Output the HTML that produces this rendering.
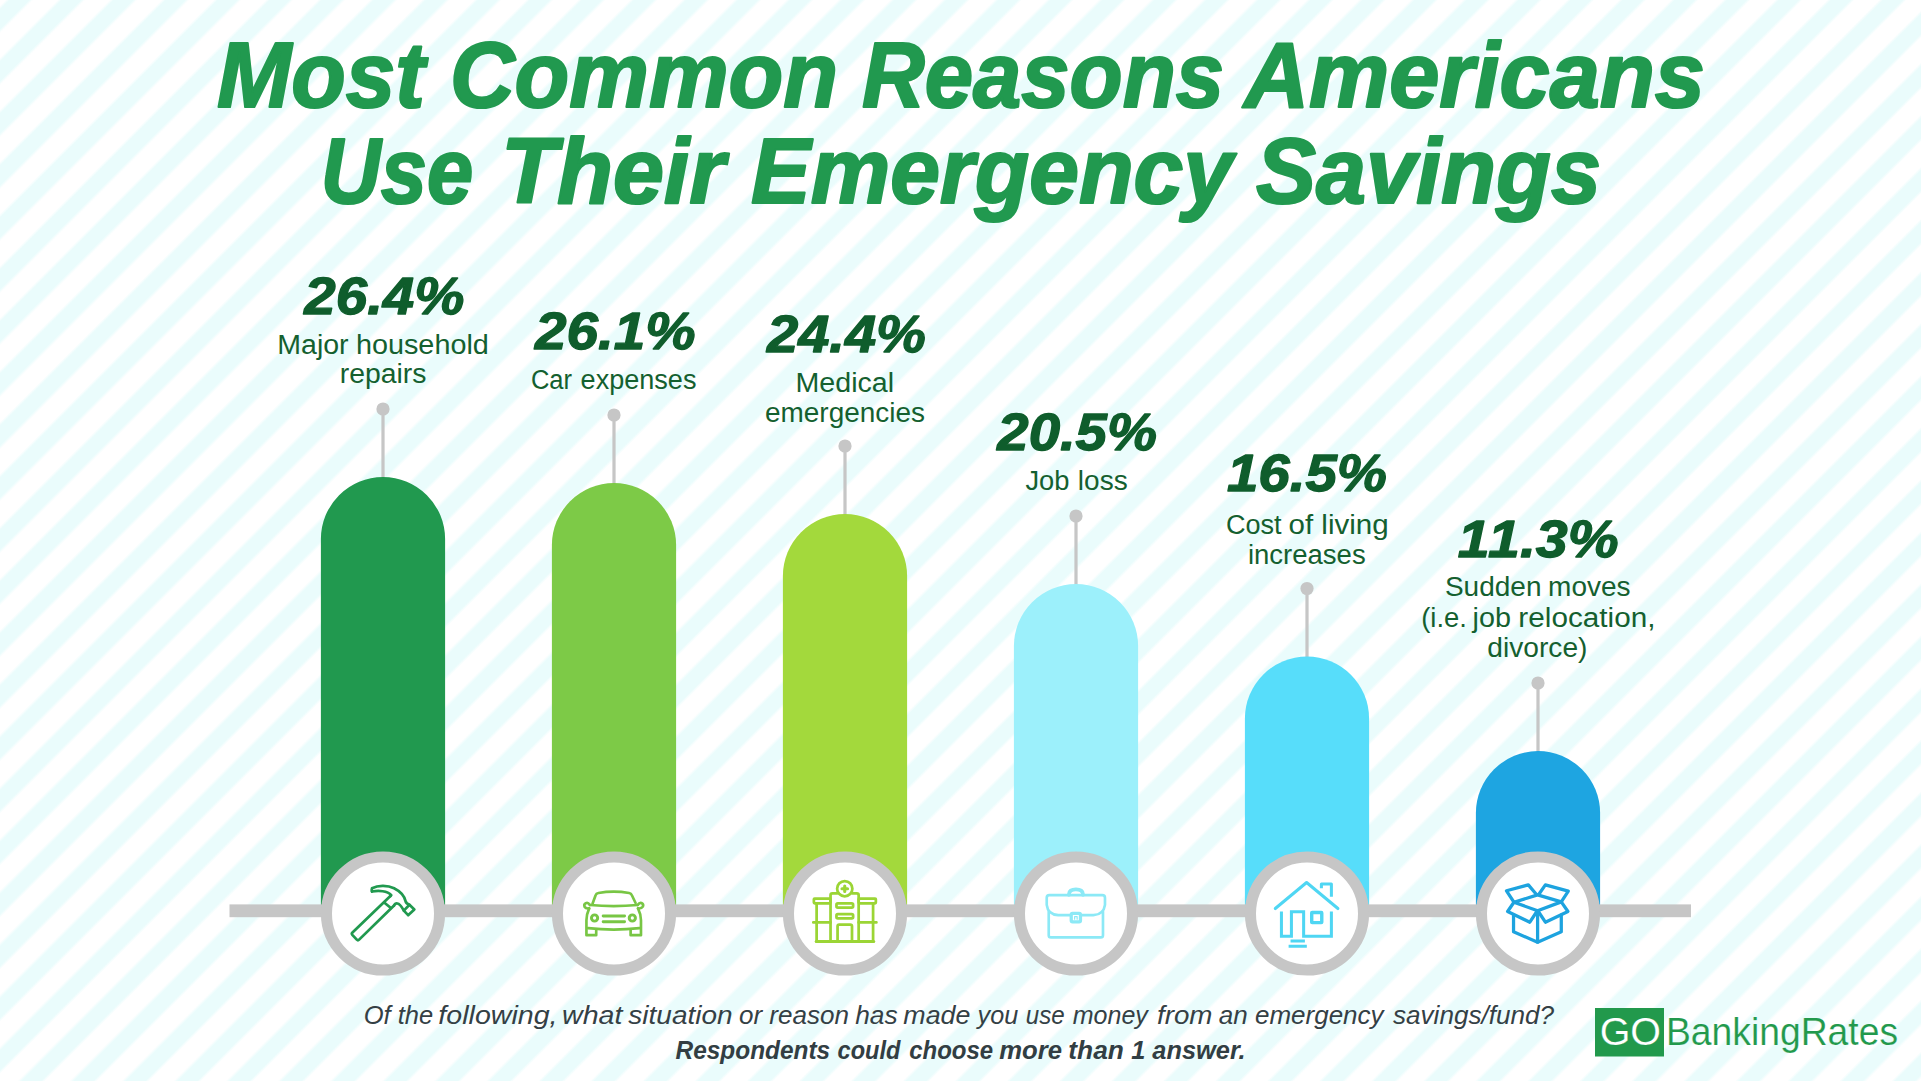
<!DOCTYPE html>
<html lang="en"><head><meta charset="utf-8"><title>Most Common Reasons Americans Use Their Emergency Savings</title>
<style>
html,body{margin:0;padding:0;}
body{width:1921px;height:1081px;overflow:hidden;position:relative;background-color:#fff;
background-image:repeating-linear-gradient(135deg,#ffffff 0px,#ffffff 3.9px,#eafcfc 6.9px,#eafcfc 20.5px,#ffffff 23.5px,#ffffff 36.8px);}
svg{position:absolute;left:0;top:0;}
text{font-family:"Liberation Sans", sans-serif;}
.ti{font-weight:700;font-style:italic;fill:#21994f;stroke:#21994f;stroke-width:2.2px;stroke-linejoin:round;}
.pc{font-weight:700;font-style:italic;fill:#0f5d2c;stroke:#0f5d2c;stroke-width:1.3px;stroke-linejoin:round;}
.lb{font-weight:400;fill:#14602f;}
.ft{font-style:italic;fill:#344045;}
.fb{font-style:italic;font-weight:700;fill:#323e43;}
.go{fill:#fff;stroke:#22994c;stroke-width:0.2px;}
.br{fill:#22994c;stroke:#fff;stroke-width:0.2px;}
</style></head><body>
<svg width="1921" height="1081" viewBox="0 0 1921 1081">

<g id="pins">
<rect x="381.4" y="409" width="3.2" height="70" fill="#c6c6c6"/><circle cx="383" cy="409" r="6.6" fill="#c6c6c6"/>
<rect x="612.4" y="415" width="3.2" height="70" fill="#c6c6c6"/><circle cx="614" cy="415" r="6.6" fill="#c6c6c6"/>
<rect x="843.4" y="446" width="3.2" height="70" fill="#c6c6c6"/><circle cx="845" cy="446" r="6.6" fill="#c6c6c6"/>
<rect x="1074.4" y="516" width="3.2" height="70" fill="#c6c6c6"/><circle cx="1076" cy="516" r="6.6" fill="#c6c6c6"/>
<rect x="1305.4" y="588.5" width="3.2" height="70" fill="#c6c6c6"/><circle cx="1307" cy="588.5" r="6.6" fill="#c6c6c6"/>
<rect x="1536.4" y="683" width="3.2" height="70" fill="#c6c6c6"/><circle cx="1538" cy="683" r="6.6" fill="#c6c6c6"/>
</g>
<g id="bars">
<path d="M320.9 913.5V539.1A62.1 62.1 0 0 1 445.1 539.1V913.5Z" fill="#21994f"/>
<path d="M551.9 913.5V545.1A62.1 62.1 0 0 1 676.1 545.1V913.5Z" fill="#7dca47"/>
<path d="M782.9 913.5V576.1A62.1 62.1 0 0 1 907.1 576.1V913.5Z" fill="#a3d93c"/>
<path d="M1013.9 913.5V646.1A62.1 62.1 0 0 1 1138.1 646.1V913.5Z" fill="#9cf0fb"/>
<path d="M1244.9 913.5V718.6A62.1 62.1 0 0 1 1369.1 718.6V913.5Z" fill="#57ddfa"/>
<path d="M1475.9 913.5V813.1A62.1 62.1 0 0 1 1600.1 813.1V913.5Z" fill="#1ea5e1"/>
</g>
<rect x="229.5" y="904.4" width="1461.5" height="12.8" fill="#c6c6c6"/>
<g id="rings">
<circle cx="383" cy="913.5" r="56.55" fill="#fff" stroke="#c6c6c6" stroke-width="11.1"/>
<circle cx="614" cy="913.5" r="56.55" fill="#fff" stroke="#c6c6c6" stroke-width="11.1"/>
<circle cx="845" cy="913.5" r="56.55" fill="#fff" stroke="#c6c6c6" stroke-width="11.1"/>
<circle cx="1076" cy="913.5" r="56.55" fill="#fff" stroke="#c6c6c6" stroke-width="11.1"/>
<circle cx="1307" cy="913.5" r="56.55" fill="#fff" stroke="#c6c6c6" stroke-width="11.1"/>
<circle cx="1538" cy="913.5" r="56.55" fill="#fff" stroke="#c6c6c6" stroke-width="11.1"/>
</g>
<g id="icons"><g transform="translate(343,873) scale(0.07401)" fill="none" stroke="#21994f" stroke-width="37" stroke-linecap="round" stroke-linejoin="round"><path d="M640 312L128 805Q112 820 126 836L186 900Q202 916 218 900L690 440"/><path d="M560 402L643 470"/><path d="M392 250Q384 225 392 205C470 165 600 160 690 205C770 245 830 310 845 380C850 405 870 420 898 430"/><path d="M392 250C480 235 600 240 652 298L640 312"/><path d="M690 440C700 415 715 410 735 412C775 418 800 470 822 508"/><path d="M898 430L964 492L880 570L822 508Z"/></g>
<g transform="translate(574,873) scale(0.07401)" fill="none" stroke="#78c644" stroke-width="36" stroke-linecap="round" stroke-linejoin="round"><path d="M250 415L292 300Q300 275 330 270Q535 235 745 270Q772 275 782 300L832 405"/><path d="M215 432Q535 462 860 432"/><path d="M215 432Q190 395 160 408Q128 425 145 460Q160 485 205 478"/><path d="M860 432Q885 395 912 405Q945 420 930 455Q912 485 865 478"/><path d="M205 478Q168 560 168 640V840H300V760"/><path d="M865 478Q905 560 905 640V840H765V760"/><path d="M190 745Q535 785 885 745"/><circle cx="278" cy="608" r="42" stroke-width="40"/><circle cx="788" cy="608" r="42" stroke-width="40"/><path d="M394 580H683M394 660H683" stroke-width="40"/></g>
<g transform="translate(805,873) scale(0.07401)" fill="none" stroke="#9bd535" stroke-width="37" stroke-linecap="round" stroke-linejoin="round"><path d="M345 925V300Q345 275 370 275H440"/><path d="M725 925V300Q725 275 700 275H635"/><circle cx="537" cy="212" r="103"/><path d="M500 212H575M537 175V250" stroke-width="42"/><rect x="425" y="410" width="225" height="58" rx="18"/><rect x="425" y="555" width="225" height="58" rx="18"/><path d="M440 925V720Q440 698 462 698H612Q635 698 635 720V925"/><rect x="120" y="345" width="225" height="65" rx="10"/><rect x="725" y="345" width="232" height="65" rx="10"/><path d="M157 410V925M920 410V925"/><path d="M112 668H345M725 668H965"/><path d="M152 925H928" stroke-width="42"/></g>
<g transform="translate(1036,873) scale(0.07401)" fill="none" stroke="#8ce9f6" stroke-width="36" stroke-linecap="round" stroke-linejoin="round"><path d="M465 570H300Q160 560 145 430V335Q145 300 180 300H895Q932 300 932 335V430Q915 560 775 570H612"/><path d="M172 520V840Q172 870 202 870H875Q905 870 905 840V520"/><path d="M445 295V285Q452 222 540 222Q628 222 635 285V295" stroke-width="50"/><rect x="476" y="545" width="125" height="115" rx="18" stroke-width="44"/><path d="M522 625V590H556V625" stroke-width="16"/></g>
<g transform="translate(1267,873) scale(0.07401)" fill="none" stroke="#4fd6f3" stroke-width="41" stroke-linecap="round" stroke-linejoin="round"><path d="M112 480L535 128L958 480" /><path d="M735 205V150H870V320" stroke-linecap="butt"/><path d="M195 520V855H330V525H495V855H870V520" stroke-linecap="butt" stroke-linejoin="miter"/><rect x="604" y="534" width="136" height="136" rx="6" stroke-width="46"/><path d="M318 920H512M292 990H538" stroke-linecap="butt"/></g>
<g transform="translate(1498,873) scale(0.07401)" fill="none" stroke="#1da3df" stroke-width="44" stroke-linecap="round" stroke-linejoin="round"><path d="M215 395L535 295L855 390L535 510Z"/><path d="M215 395L115 240L410 160L520 290"/><path d="M550 290L640 160L950 245L855 390"/><path d="M215 395L130 520L430 665L525 520"/><path d="M855 390L945 520L640 665L545 520"/><path d="M210 575V795L535 935L855 795V565"/><path d="M535 510V935"/></g></g>
<rect x="1595" y="1008" width="69" height="48.5" fill="#22994c"/>
<g id="labels">
<text class="ti" y="106.80" font-size="93"><tspan x="217.01" textLength="208.06" lengthAdjust="spacingAndGlyphs">Most</tspan> <tspan x="449.94" textLength="388.11" lengthAdjust="spacingAndGlyphs">Common</tspan> <tspan x="861.99" textLength="362.03" lengthAdjust="spacingAndGlyphs">Reasons</tspan> <tspan x="1243.99" textLength="461.00" lengthAdjust="spacingAndGlyphs">Americans</tspan></text>
<text class="ti" y="202.70" font-size="93"><tspan x="320.84" textLength="152.22" lengthAdjust="spacingAndGlyphs">Use</tspan> <tspan x="500.99" textLength="224.00" lengthAdjust="spacingAndGlyphs">Their</tspan> <tspan x="751.01" textLength="482.03" lengthAdjust="spacingAndGlyphs">Emergency</tspan> <tspan x="1256.00" textLength="345.02" lengthAdjust="spacingAndGlyphs">Savings</tspan></text>
<text class="pc" x="304.39" y="314.40" font-size="52.5" textLength="160.01" lengthAdjust="spacingAndGlyphs">26.4%</text>
<text class="lb" y="353.70" font-size="27"><tspan x="277.31" textLength="71.30" lengthAdjust="spacingAndGlyphs">Major</tspan> <tspan x="355.93" textLength="132.92" lengthAdjust="spacingAndGlyphs">household</tspan></text>
<text class="lb" y="383.40" font-size="27"><tspan x="339.75" textLength="86.67" lengthAdjust="spacingAndGlyphs">repairs</tspan></text>
<text class="pc" x="535.00" y="348.50" font-size="52.5" textLength="160.60" lengthAdjust="spacingAndGlyphs">26.1%</text>
<text class="lb" y="389.40" font-size="27"><tspan x="530.90" textLength="41.12" lengthAdjust="spacingAndGlyphs">Car</tspan> <tspan x="580.58" textLength="115.84" lengthAdjust="spacingAndGlyphs">expenses</tspan></text>
<text class="pc" x="766.99" y="351.90" font-size="52.5" textLength="159.01" lengthAdjust="spacingAndGlyphs">24.4%</text>
<text class="lb" y="391.50" font-size="27"><tspan x="795.51" textLength="98.55" lengthAdjust="spacingAndGlyphs">Medical</tspan></text>
<text class="lb" y="421.50" font-size="27"><tspan x="764.99" textLength="160.03" lengthAdjust="spacingAndGlyphs">emergencies</tspan></text>
<text class="pc" x="997.39" y="450.40" font-size="52.5" textLength="159.60" lengthAdjust="spacingAndGlyphs">20.5%</text>
<text class="lb" y="490.40" font-size="27"><tspan x="1025.38" textLength="44.06" lengthAdjust="spacingAndGlyphs">Job</tspan> <tspan x="1077.88" textLength="49.78" lengthAdjust="spacingAndGlyphs">loss</tspan></text>
<text class="pc" x="1226.99" y="491.25" font-size="52.5" textLength="160.01" lengthAdjust="spacingAndGlyphs">16.5%</text>
<text class="lb" y="533.50" font-size="27"><tspan x="1225.96" textLength="55.64" lengthAdjust="spacingAndGlyphs">Cost</tspan> <tspan x="1288.55" textLength="100.10" lengthAdjust="spacingAndGlyphs">of living</tspan></text>
<text class="lb" y="563.75" font-size="27"><tspan x="1247.94" textLength="117.71" lengthAdjust="spacingAndGlyphs">increases</tspan></text>
<text class="pc" x="1457.79" y="557.00" font-size="52.5" textLength="160.83" lengthAdjust="spacingAndGlyphs">1<tspan dx="2.5">1</tspan>.3%</text>
<text class="lb" y="596.40" font-size="27"><tspan x="1444.94" textLength="96.53" lengthAdjust="spacingAndGlyphs">Sudden</tspan> <tspan x="1548.12" textLength="82.50" lengthAdjust="spacingAndGlyphs">moves</tspan></text>
<text class="lb" y="626.50" font-size="27"><tspan x="1421.20" textLength="45.66" lengthAdjust="spacingAndGlyphs">(i.e.</tspan> <tspan x="1472.61" textLength="38.40" lengthAdjust="spacingAndGlyphs">job</tspan> <tspan x="1518.35" textLength="137.16" lengthAdjust="spacingAndGlyphs">relocation,</tspan></text>
<text class="lb" y="656.90" font-size="27"><tspan x="1487.38" textLength="100.07" lengthAdjust="spacingAndGlyphs">divorce)</tspan></text>
<text class="ft" y="1023.80" font-size="25"><tspan x="363.76" textLength="69.48" lengthAdjust="spacingAndGlyphs">Of the</tspan> <tspan x="438.38" textLength="119.15" lengthAdjust="spacingAndGlyphs">following,</tspan> <tspan x="561.99" textLength="60.40" lengthAdjust="spacingAndGlyphs">what</tspan> <tspan x="628.39" textLength="104.24" lengthAdjust="spacingAndGlyphs">situation</tspan> <tspan x="738.99" textLength="110.02" lengthAdjust="spacingAndGlyphs">or reason</tspan> <tspan x="855.18" textLength="42.45" lengthAdjust="spacingAndGlyphs">has</tspan> <tspan x="903.39" textLength="67.04" lengthAdjust="spacingAndGlyphs">made</tspan> <tspan x="977.58" textLength="40.62" lengthAdjust="spacingAndGlyphs">you</tspan> <tspan x="1025.72" textLength="38.91" lengthAdjust="spacingAndGlyphs">use</tspan> <tspan x="1072.80" textLength="75.03" lengthAdjust="spacingAndGlyphs">money</tspan> <tspan x="1156.95" textLength="55.50" lengthAdjust="spacingAndGlyphs">from</tspan> <tspan x="1218.80" textLength="164.81" lengthAdjust="spacingAndGlyphs">an emergency</tspan> <tspan x="1393.00" textLength="161.00" lengthAdjust="spacingAndGlyphs">savings/fund?</tspan></text>
<text class="fb" y="1058.50" font-size="25"><tspan x="675.60" textLength="154.61" lengthAdjust="spacingAndGlyphs">Respondents</tspan> <tspan x="837.58" textLength="62.84" lengthAdjust="spacingAndGlyphs">could</tspan> <tspan x="909.18" textLength="84.04" lengthAdjust="spacingAndGlyphs">choose</tspan> <tspan x="999.18" textLength="62.84" lengthAdjust="spacingAndGlyphs">more</tspan> <tspan x="1068.34" textLength="55.50" lengthAdjust="spacingAndGlyphs">than</tspan> <tspan x="1131.18" textLength="114.26" lengthAdjust="spacingAndGlyphs">1 answer.</tspan></text>
<text class="go" x="1599.63" y="1045.20" font-size="39" textLength="61.33" lengthAdjust="spacingAndGlyphs">GO</text>
<text class="br" x="1665.94" y="1044.80" font-size="39" textLength="232.09" lengthAdjust="spacingAndGlyphs">BankingRates</text>
</g>
<!--FOOTER-->
</svg></body></html>
